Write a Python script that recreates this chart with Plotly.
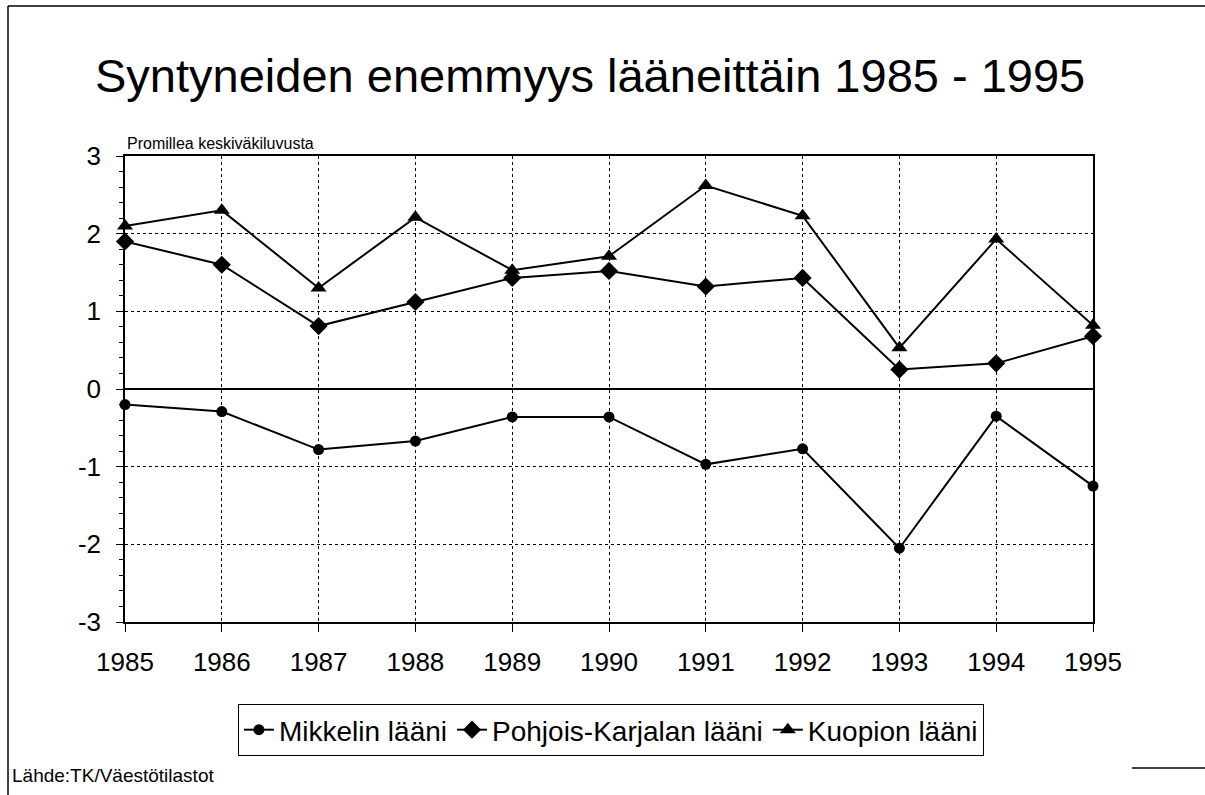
import plotly.graph_objects as go

years = [1985, 1986, 1987, 1988, 1989, 1990, 1991, 1992, 1993, 1994, 1995]
mikkeli = [-0.2, -0.29, -0.78, -0.67, -0.36, -0.36, -0.97, -0.77, -2.05, -0.35, -1.25]
pohjois_karjala = [1.9, 1.6, 0.81, 1.12, 1.43, 1.52, 1.32, 1.43, 0.25, 0.33, 0.68]
kuopio = [2.1, 2.3, 1.3, 2.21, 1.53, 1.71, 2.62, 2.23, 0.53, 1.93, 0.82]

series_names = ["Mikkelin lääni", "Pohjois-Karjalan lääni", "Kuopion lääni"]
y_ticks = [-3, -2, -1, 0, 1, 2, 3]
y_tick_labels = ["-3", "-2", "-1", "0", "1", "2", "3"]

FONT = "Liberation Sans, Arial, sans-serif"

fig = go.Figure()
for name, vals, sym, size in [
    (series_names[0], mikkeli, "circle", 11),
    (series_names[1], pohjois_karjala, "diamond", 14),
    (series_names[2], kuopio, "triangle-up", 14),
]:
    fig.add_trace(go.Scatter(
        x=years, y=vals, name=name, mode="lines+markers",
        line=dict(color="black", width=2),
        marker=dict(symbol=sym, size=size, color="black"),
        cliponaxis=False,
    ))

fig.update_layout(
    width=1205, height=795,
    paper_bgcolor="white", plot_bgcolor="white",
    margin=dict(l=125, r=112, t=156, b=173),
    font=dict(family=FONT, color="black"),
    showlegend=True,
    legend=dict(
        orientation="h", xref="container", yref="container",
        x=0.507, xanchor="center", y=1 - 704 / 795, yanchor="top",
        bordercolor="black", borderwidth=1, bgcolor="white",
        font=dict(size=28, family=FONT, color="black"),
        itemwidth=30, tracegroupgap=0,
    ),
    xaxis=dict(
        range=[1985, 1995], tickvals=years, ticktext=[str(y) for y in years],
        showgrid=True, gridcolor="black", griddash="dot", gridwidth=1,
        showline=True, linecolor="black", linewidth=1.5, mirror=True,
        ticks="outside", ticklen=8, tickcolor="black",
        tickfont=dict(size=26, family=FONT, color="black"),
        ticklabelstandoff=8,
        zeroline=False,
    ),
    yaxis=dict(
        range=[-3, 3], tickvals=y_ticks, ticktext=y_tick_labels,
        showgrid=True, gridcolor="black", griddash="dot", gridwidth=1,
        showline=True, linecolor="black", linewidth=1.5, mirror=True,
        ticks="outside", ticklen=7, tickcolor="black",
        minor=dict(dtick=0.2, ticks="outside", ticklen=4, tickcolor="black", showgrid=False),
        tickfont=dict(size=26, family=FONT, color="black"),
        ticklabelstandoff=10,
        zeroline=True, zerolinecolor="black", zerolinewidth=1.5,
    ),
    annotations=[
        dict(text="Syntyneiden enemmyys lääneittäin 1985 - 1995",
             xref="paper", yref="paper", x=0.48, y=1,
             yshift=81, showarrow=False,
             font=dict(size=47, family=FONT, color="black"),
             xanchor="center", yanchor="middle"),
        dict(text="Promillea keskiväkiluvusta", xref="paper", yref="paper",
             x=0, y=1, yshift=2, showarrow=False, xanchor="left", yanchor="bottom",
             font=dict(size=16, family=FONT, color="black")),
        dict(text="Lähde:TK/Väestötilastot", xref="paper", yref="paper",
             x=0, y=0, xshift=-115, yshift=-153, showarrow=False,
             xanchor="left", yanchor="middle",
             font=dict(size=19, family=FONT, color="black")),
    ],
    shapes=[
        dict(type="line", xref="paper", yref="paper", x0=-117 / 968, x1=1 + 112 / 968,
             y0=1 + 150 / 466, y1=1 + 150 / 466, line=dict(color="black", width=1.5)),
        dict(type="line", xref="paper", yref="paper", x0=-117 / 968, x1=-117 / 968,
             y0=1 + 150 / 466, y1=-173 / 466, line=dict(color="black", width=1.5)),
        dict(type="line", xref="paper", yref="paper", x0=(1132 - 125) / 968, x1=1 + 112 / 968,
             y0=-(768 - 622) / 466, y1=-(768 - 622) / 466, line=dict(color="black", width=1.5)),
    ],
)

fig.write_html("out.html", config={"displayModeBar": False},
               post_script="document.body.style.margin='0';")
